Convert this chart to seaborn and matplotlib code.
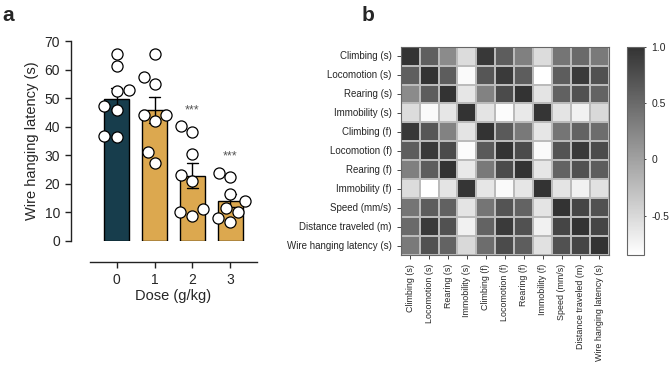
import numpy as np
import pandas as pd
import matplotlib
matplotlib.use('Agg')
import matplotlib.pyplot as plt
import seaborn as sns
from matplotlib.colors import LinearSegmentedColormap

# ---------- data ----------
doses = ['0', '1', '2', '3']
latency_0 = [65.6, 61.1, 52.4, 52.8, 47.1, 46.0, 36.3, 36.8]
latency_1 = [65.6, 57.4, 55.1, 41.9, 44.2, 44.2, 31.1, 27.4]
latency_2 = [40.1, 38.0, 30.5, 23.1, 21.0, 8.7, 11.0, 10.2]
latency_3 = [22.2, 23.9, 16.4, 13.9, 11.4, 10.2, 6.7, 7.9]
sig_labels = ['', '', '***', '***']
bar_colors = ['#173d4c', '#dca84f', '#dca84f', '#dca84f']

measures = ['Climbing (s)', 'Locomotion (s)', 'Rearing (s)', 'Immobility (s)',
            'Climbing (f)', 'Locomotion (f)', 'Rearing (f)', 'Immobility (f)',
            'Speed (mm/s)', 'Distance traveled (m)', 'Wire hanging latency (s)']
corr = [
    [1.00, 0.60, 0.20, -0.53, 0.95, 0.62, 0.30, -0.53, 0.40, 0.50, 0.35],
    [0.60, 1.00, 0.62, -0.80, 0.68, 0.93, 0.62, -0.85, 0.62, 0.93, 0.72],
    [0.20, 0.62, 1.00, -0.62, 0.28, 0.78, 1.00, -0.60, 0.58, 0.72, 0.56],
    [-0.53, -0.80, -0.62, 1.00, -0.60, -0.82, -0.65, 0.98, -0.60, -0.72, -0.50],
    [0.95, 0.68, 0.28, -0.60, 1.00, 0.64, 0.37, -0.62, 0.40, 0.56, 0.47],
    [0.62, 0.93, 0.78, -0.82, 0.64, 1.00, 0.78, -0.80, 0.70, 0.93, 0.78],
    [0.30, 0.62, 1.00, -0.65, 0.37, 0.78, 1.00, -0.62, 0.56, 0.72, 0.62],
    [-0.53, -0.85, -0.60, 0.98, -0.62, -0.80, -0.62, 1.00, -0.60, -0.72, -0.57],
    [0.40, 0.62, 0.58, -0.60, 0.40, 0.70, 0.56, -0.60, 1.00, 0.83, 0.72],
    [0.50, 0.93, 0.72, -0.72, 0.56, 0.93, 0.72, -0.72, 0.83, 1.00, 0.83],
    [0.35, 0.72, 0.56, -0.50, 0.47, 0.78, 0.62, -0.57, 0.72, 0.83, 1.00],
]

sns.set_style('ticks')
plt.rcParams['font.family'] = ['Liberation Sans', 'DejaVu Sans']

df = pd.DataFrame({
    'dose': np.repeat(doses, 8),
    'latency': latency_0 + latency_1 + latency_2 + latency_3,
})

fig = plt.figure(figsize=(6.69, 3.67), dpi=100)

# ================= a: bar + points =================
ax = fig.add_axes([0.1345, 0.344, 0.2497, 0.544])
sns.barplot(data=df, x='dose', y='latency', hue='dose', order=doses,
            palette=bar_colors, saturation=1, legend=False, errorbar='se',
            capsize=0.3, width=0.66, edgecolor='black', linewidth=1.0,
            err_kws={'color': 'black', 'linewidth': 1.0}, ax=ax)
sns.swarmplot(data=df, x='dose', y='latency', order=doses, color='white',
              edgecolor='black', linewidth=0.9, size=8, ax=ax, zorder=5,
              warn_thresh=1)
for c in ax.collections:
    c.set_clip_on(False)

for i, d in enumerate(doses):
    if sig_labels[i]:
        top = df.loc[df.dose == d, 'latency'].max()
        ax.text(i, top + 3.5, sig_labels[i], ha='center', va='bottom',
                fontsize=9, color='#555555')

ax.set_ylim(0, 70)
ax.set_xlim(-0.7, 3.7)
ax.set_yticks(range(0, 71, 10))
ax.spines['left'].set_bounds(0, 70)
ax.spines['left'].set_position(('outward', 14))
ax.spines['bottom'].set_position(('outward', 15))
for s in ['top', 'right']:
    ax.spines[s].set_visible(False)
for s in ['left', 'bottom']:
    ax.spines[s].set_linewidth(1.0)
    ax.spines[s].set_color('#222222')
ax.tick_params(labelsize=10, width=1.0, length=4, color='#222222')
ax.tick_params(axis='x', pad=4)
ax.set_xlabel('Dose (g/kg)', fontsize=10.5, labelpad=2)
ax.set_ylabel('Wire hanging latency (s)', fontsize=10.5, labelpad=4)

# ================= b: correlation heatmap =================
cmap = LinearSegmentedColormap.from_list('grey_corr', ['#ffffff', '#333333'])
hax = fig.add_axes([0.599, 0.305, 0.311, 0.568])
cax = fig.add_axes([0.937, 0.305, 0.026, 0.568])
corr_df = pd.DataFrame(corr, index=measures, columns=measures)
sns.heatmap(corr_df, cmap=cmap, vmin=-0.85, vmax=1.0, ax=hax, cbar_ax=cax,
            linewidths=0.3, linecolor='#bbbbbb', square=False)
hax.tick_params(length=3, width=0.6)
hax.tick_params(axis='y', labelsize=7)
hax.tick_params(axis='x', labelsize=6.4)
hax.set_xticklabels(measures, rotation=90)
hax.set_yticklabels(measures, rotation=0)
for s in hax.spines.values():
    s.set_visible(True)
    s.set_linewidth(0.8)
    s.set_color('#666666')

cbar = hax.collections[0].colorbar
cbar.set_ticks([1.0, 0.5, 0, -0.5])
cbar.set_ticklabels(['1.0', '0.5', '0', '-0.5'])
cax.tick_params(labelsize=7.5, length=3, width=0.6, direction='inout')
cbar.outline.set_linewidth(0.8)
cbar.outline.set_edgecolor('#666666')

fig.text(0.003, 0.985, 'a', fontsize=15, fontweight='bold', va='top')
fig.text(0.541, 0.985, 'b', fontsize=15, fontweight='bold', va='top')

fig.savefig('out.png', dpi=100)
